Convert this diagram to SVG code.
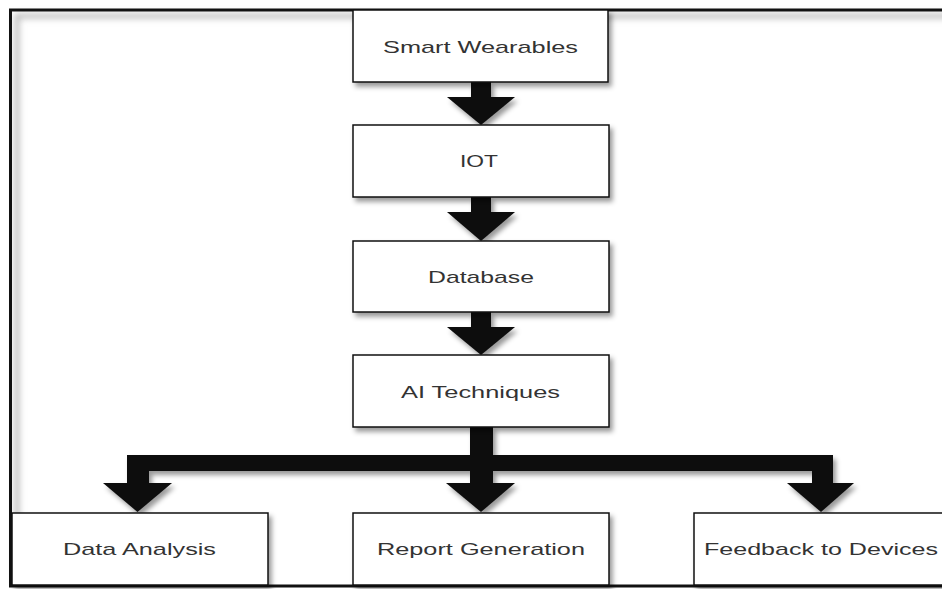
<svg xmlns="http://www.w3.org/2000/svg" width="942" height="589" viewBox="0 0 942 589">
  <defs>
    <filter id="sh" x="-20%" y="-20%" width="140%" height="150%">
      <feDropShadow dx="3" dy="4" stdDeviation="2.5" flood-color="#000" flood-opacity="0.4"/>
    </filter>
    <filter id="blur" x="-5%" y="-50%" width="110%" height="200%">
      <feGaussianBlur stdDeviation="3"/>
    </filter>
    <style>
      .box { fill: #fff; stroke: #111; stroke-width: 1.5; filter: url(#sh); }
      .lbl { font-family: "Liberation Sans", Arial, sans-serif; font-size: 17px; fill: #333; text-anchor: middle; }
      .arr { fill: #0d0d0d; filter: url(#sh); }
      .frame { fill: none; stroke: #111; stroke-width: 3; }
      .inner { fill: none; stroke: #bbb; stroke-width: 5; filter: url(#blur); }
    </style>
  </defs>
  <rect width="942" height="589" fill="#fff"/>
  <g id="frame">
    <path class="inner" d="M 950 16 H 17 V 580"/>
    <path class="frame" d="M 950 10 H 10.5 V 586 H 950"/>
  </g>
  <g id="connectors">
    <path class="arr" d="M 471 82 H 491 V 97 H 515 L 481 125 L 447 97 H 471 Z"/>
    <path class="arr" d="M 471 197 H 491 V 212 H 515 L 481 241 L 447 212 H 471 Z"/>
    <path class="arr" d="M 471 312 H 491 V 327 H 515 L 481 355 L 447 327 H 471 Z"/>
    <path class="arr" d="M 470 427 H 493 V 455 H 833 V 483 H 854 L 821 512 L 787 483 H 812 V 471 H 493 V 483 H 515 L 481 512 L 446 483 H 470 V 471 H 149 V 483 H 172 L 137.5 512 L 103 483 H 127 V 455 H 470 Z"/>
  </g>
  <g id="smart-wearables">
    <rect class="box" x="353" y="10" width="255" height="72"/>
    <text class="lbl" x="480.5" y="53" textLength="195" lengthAdjust="spacingAndGlyphs">Smart Wearables</text>
  </g>
  <g id="iot">
    <rect class="box" x="353" y="125" width="256" height="72"/>
    <text class="lbl" x="479" y="167" textLength="38" lengthAdjust="spacingAndGlyphs">IOT</text>
  </g>
  <g id="database">
    <rect class="box" x="353" y="241" width="256" height="71"/>
    <text class="lbl" x="481" y="283" textLength="106" lengthAdjust="spacingAndGlyphs">Database</text>
  </g>
  <g id="ai-techniques">
    <rect class="box" x="353" y="355" width="256" height="72"/>
    <text class="lbl" x="480.5" y="398" textLength="159" lengthAdjust="spacingAndGlyphs">AI Techniques</text>
  </g>
  <g id="data-analysis">
    <rect class="box" x="12" y="513" width="256" height="72"/>
    <text class="lbl" x="139.5" y="555" textLength="153" lengthAdjust="spacingAndGlyphs">Data Analysis</text>
  </g>
  <g id="report-generation">
    <rect class="box" x="353" y="513" width="256" height="72"/>
    <text class="lbl" x="481" y="555" textLength="208" lengthAdjust="spacingAndGlyphs">Report Generation</text>
  </g>
  <g id="feedback-to-devices">
    <rect class="box" x="694" y="513" width="256" height="72"/>
    <text class="lbl" x="821" y="555" textLength="234" lengthAdjust="spacingAndGlyphs">Feedback to Devices</text>
  </g>
</svg>
